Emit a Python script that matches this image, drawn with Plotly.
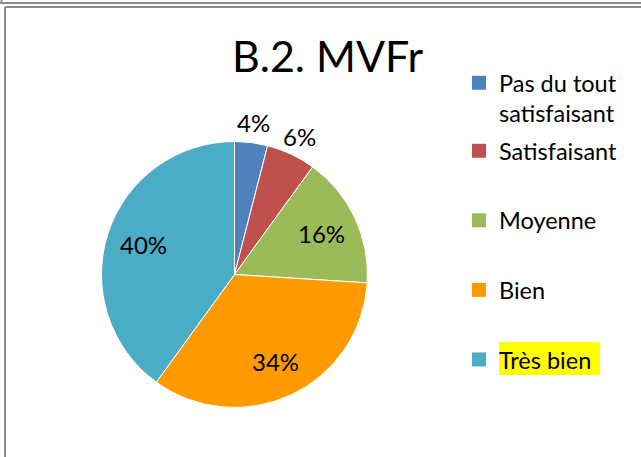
import math
import plotly.graph_objects as go

categories = ["Pas du tout<br>satisfaisant", "Satisfaisant", "Moyenne", "Bien", "Très bien"]
values = [4, 6, 16, 34, 40]
colors = ["#4F81BD", "#C0504D", "#9BBB59", "#FF9900", "#4BACC6"]
label_radius = [1.15, 1.15, 0.72, 0.72, 0.72]  # label distance from centre, in pie radii

W, H = 641, 457
FONT = "Lato, 'Open Sans', sans-serif"

def px_x(x):
    return x / W

def px_y(y):
    return 1 - y / H

cx, cy, R = 234.5, 274.5, 133

fig = go.Figure()
fig.add_trace(go.Pie(
    labels=categories,
    values=values,
    sort=False,
    direction="clockwise",
    rotation=0,
    marker=dict(colors=colors, line=dict(color="white", width=1)),
    textinfo="none",
    domain=dict(x=[px_x(cx - R), px_x(cx + R)], y=[px_y(cy + R), px_y(cy - R)]),
    showlegend=False,
    hoverinfo="label+percent",
))

# percentage labels at each slice's mid-angle (derived from the values)
total = sum(values)
annotations = []
cum = 0
for v, rf in zip(values, label_radius):
    mid = (cum + v / 2) / total * 2 * math.pi
    cum += v
    lx = cx + rf * R * math.sin(mid)
    ly = cy - rf * R * math.cos(mid)
    annotations.append(dict(
        text=f"{round(100 * v / total)}%", x=px_x(lx), y=px_y(ly),
        xref="paper", yref="paper", showarrow=False,
        xanchor="center", yanchor="middle",
        font=dict(family=FONT, size=24, color="black"),
    ))

# legend entries built from the same categories / colors
for i, (lab, col) in enumerate(zip(categories, colors)):
    fig.add_trace(go.Scatter(
        x=[None], y=[None], mode="markers", name=lab,
        marker=dict(symbol="square", size=14, color=col),
        legendgroup=f"g{i}",
        legend="legend" if i == 0 else "legend2",
        showlegend=True,
    ))

legend_common = dict(
    bgcolor="rgba(0,0,0,0)",
    borderwidth=0,
    font=dict(family=FONT, size=23.5, color="black"),
    xanchor="left",
    yanchor="top",
    valign="top",
    tracegroupgap=36,
    itemclick=False,
    itemdoubleclick=False,
)

frame = dict(type="line", xref="paper", yref="paper", line=dict(color="#8c8c8c", width=2))

fig.update_layout(
    width=W, height=H,
    margin=dict(l=0, r=0, t=0, b=0),
    paper_bgcolor="white",
    plot_bgcolor="rgba(0,0,0,0)",
    xaxis=dict(visible=False),
    yaxis=dict(visible=False),
    title=dict(text="B.2. MVFr", x=0.511, xanchor="center", y=px_y(57), yanchor="middle",
               font=dict(family=FONT, size=43, color="black")),
    legend=dict(x=px_x(459), y=px_y(61), **legend_common),
    legend2=dict(x=px_x(459), y=px_y(129), **legend_common),
    annotations=annotations,
    shapes=[
        dict(frame, x0=0, x1=1, y0=px_y(3), y1=px_y(3)),
        dict(frame, x0=px_x(1.5), x1=px_x(1.5), y0=1, y1=px_y(3)),
        dict(frame, x0=px_x(5), x1=1, y0=px_y(7), y1=px_y(7)),
        dict(frame, x0=px_x(5), x1=px_x(5), y0=px_y(7), y1=0),
        dict(type="rect", xref="paper", yref="paper", layer="above",
             x0=px_x(499), x1=px_x(600), y0=px_y(375), y1=px_y(342),
             fillcolor="#FFFF00", line=dict(width=0)),
    ],
)

fig.write_html("out.html", config={"displayModeBar": False},
               post_script="document.body.style.margin='0';")
